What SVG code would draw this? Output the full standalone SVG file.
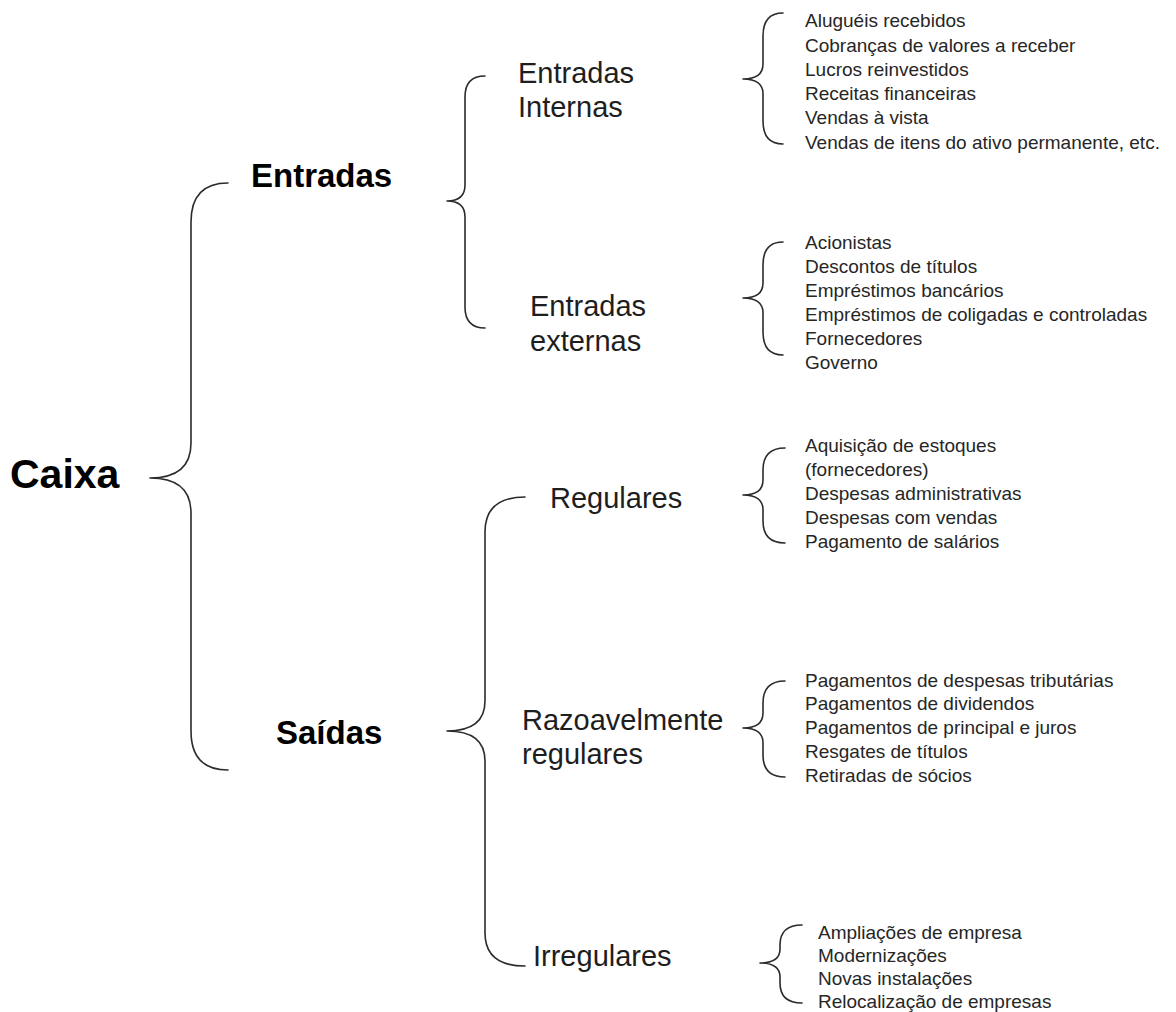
<svg xmlns="http://www.w3.org/2000/svg" width="1176" height="1012" viewBox="0 0 1176 1012">
<style>
.br{fill:none;stroke:#2b2b2b;stroke-width:1.6;stroke-linecap:round;stroke-linejoin:round}
.t1{font-family:"Liberation Sans",Arial,sans-serif;font-weight:bold;fill:#000}
.t2{font-family:"Liberation Sans",Arial,sans-serif;font-size:29px;fill:#1e1e1e}
.t3{font-family:"Liberation Sans",Arial,sans-serif;font-size:19px;fill:#262626}
</style>
<rect width="1176" height="1012" fill="#fff"/>
<g id="connectors">
<path class="br" d="M228,183 Q191,183 191,222 L191,443 Q191,478 150,478 Q191,478 191,513 L191,731 Q191,770 228,770"/>
<path class="br" d="M485,76 Q465,76 465,97 L465,185 Q465,201 447,201 Q465,201 465,217 L465,307 Q465,328 485,328"/>
<path class="br" d="M525,497 Q485,497 485,532 L485,701 Q485,731 447,731 Q485,731 485,761 L485,933 Q485,966 525,966"/>
<path class="br" d="M783,13 Q763,13 763,36 L763,64 Q763,79 743,79 Q763,79 763,94 L763,121 Q763,144 783,144"/>
<path class="br" d="M783,242 Q763,242 763,265 L763,283 Q763,298 743,298 Q763,298 763,313 L763,332 Q763,355 783,355"/>
<path class="br" d="M785,448 Q763,448 763,470 L763,480 Q763,495 743,495 Q763,495 763,510 L763,521 Q763,543 785,543"/>
<path class="br" d="M785,681 Q763,681 763,703 L763,713 Q763,728 743,728 Q763,728 763,743 L763,755 Q763,777 785,777"/>
<path class="br" d="M802,925 Q780,925 780,945 L780,949 Q780,963 760,963 Q780,963 780,977 L780,983 Q780,1003 802,1003"/>
</g>
<g id="caixa"><text class="t1" x="10" y="488" font-size="41">Caixa</text></g>
<g id="entradas"><text class="t1" x="251" y="187" font-size="33">Entradas</text></g>
<g id="saidas"><text class="t1" x="276" y="744" font-size="33">Saídas</text></g>
<g id="entradas-internas"><text class="t2" x="518" y="83">Entradas</text><text class="t2" x="518" y="117">Internas</text></g>
<g id="entradas-externas"><text class="t2" x="530" y="316">Entradas</text><text class="t2" x="530" y="351">externas</text></g>
<g id="regulares"><text class="t2" x="550" y="508" font-size="30.5">Regulares</text></g>
<g id="razoavelmente-regulares"><text class="t2" x="522" y="730">Razoavelmente</text><text class="t2" x="522" y="764">regulares</text></g>
<g id="irregulares"><text class="t2" x="533" y="966">Irregulares</text></g>
<g id="itens-internas">
<text class="t3" x="805" y="27">Aluguéis recebidos</text>
<text class="t3" x="805" y="52">Cobranças de valores a receber</text>
<text class="t3" x="805" y="76">Lucros reinvestidos</text>
<text class="t3" x="805" y="100">Receitas financeiras</text>
<text class="t3" x="805" y="124">Vendas à vista</text>
<text class="t3" x="805" y="149">Vendas de itens do ativo permanente, etc.</text>
</g>
<g id="itens-externas">
<text class="t3" x="805" y="249">Acionistas</text>
<text class="t3" x="805" y="273">Descontos de títulos</text>
<text class="t3" x="805" y="297">Empréstimos bancários</text>
<text class="t3" x="805" y="321">Empréstimos de coligadas e controladas</text>
<text class="t3" x="805" y="345">Fornecedores</text>
<text class="t3" x="805" y="369">Governo</text>
</g>
<g id="itens-regulares">
<text class="t3" x="805" y="452">Aquisição de estoques</text>
<text class="t3" x="805" y="476">(fornecedores)</text>
<text class="t3" x="805" y="500">Despesas administrativas</text>
<text class="t3" x="805" y="524">Despesas com vendas</text>
<text class="t3" x="805" y="548">Pagamento de salários</text>
</g>
<g id="itens-razoavelmente">
<text class="t3" x="805" y="687">Pagamentos de despesas tributárias</text>
<text class="t3" x="805" y="710">Pagamentos de dividendos</text>
<text class="t3" x="805" y="734">Pagamentos de principal e juros</text>
<text class="t3" x="805" y="758">Resgates de títulos</text>
<text class="t3" x="805" y="782">Retiradas de sócios</text>
</g>
<g id="itens-irregulares">
<text class="t3" x="818" y="939">Ampliações de empresa</text>
<text class="t3" x="818" y="962">Modernizações</text>
<text class="t3" x="818" y="985">Novas instalações</text>
<text class="t3" x="818" y="1008">Relocalização de empresas</text>
</g>
</svg>
